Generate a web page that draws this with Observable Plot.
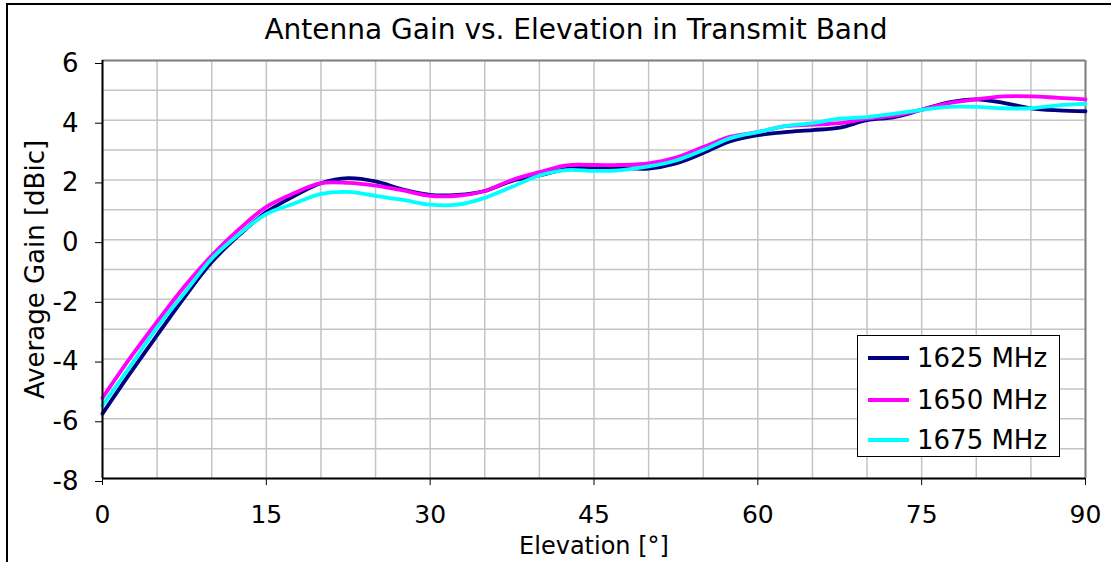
<!DOCTYPE html>
<html>
<head>
<meta charset="utf-8">
<script src="https://cdn.jsdelivr.net/npm/d3@7"></script>
<script src="https://cdn.jsdelivr.net/npm/@observablehq/plot@0.6"></script>
<style>
  html, body { margin: 0; padding: 0; background: #fff; }
  #wrap { position: relative; width: 1111px; height: 562px; overflow: hidden; font-family: "DejaVu Sans", Verdana, sans-serif; }
  #outer { position: absolute; left: 6px; top: 3px; width: 1200px; height: 700px; border: 2px solid #000; pointer-events: none; }
  #legend { position: absolute; left: 857px; top: 335px; width: 203px; height: 122px; border: 1.5px solid #000; background: #fff; box-sizing: border-box; }
  .row { position: absolute; left: 0; height: 40px; display: flex; align-items: center; }
  .row span { font-size: 26px; color: #000; margin-left: 8px; white-space: nowrap; }
</style>
</head>
<body>
<div id="wrap">
  <div id="chart"></div>
  <div id="legend"></div>
  <div id="outer"></div>
</div>
<script>
const elevation = [0, 2.5, 5, 7.5, 10, 12.5, 15, 17.5, 20, 22.5, 25, 27.5, 30, 32.5, 35, 37.5, 40, 42.5, 45, 47.5, 50, 52.5, 55, 57.5, 60, 62.5, 65, 67.5, 70, 72.5, 75, 77.5, 80, 82.5, 85, 87.5, 90];
const gain1625 = [-5.83, -4.49, -3.2, -1.93, -0.75, 0.15, 0.92, 1.45, 1.89, 2.06, 1.95, 1.68, 1.5, 1.5, 1.63, 1.97, 2.15, 2.37, 2.43, 2.4, 2.38, 2.55, 2.9, 3.3, 3.5, 3.6, 3.67, 3.75, 4.0, 4.1, 4.35, 4.6, 4.7, 4.58, 4.4, 4.33, 4.3];
const gain1650 = [-5.3, -3.98, -2.75, -1.57, -0.53, 0.35, 1.1, 1.55, 1.89, 1.9, 1.81, 1.65, 1.47, 1.47, 1.63, 2.0, 2.26, 2.49, 2.5, 2.5, 2.55, 2.75, 3.1, 3.45, 3.6, 3.8, 3.85, 3.9, 4.05, 4.15, 4.35, 4.57, 4.7, 4.8, 4.8, 4.75, 4.7];
const gain1675 = [-5.55, -4.26, -2.94, -1.79, -0.64, 0.18, 0.86, 1.2, 1.53, 1.6, 1.47, 1.33, 1.17, 1.17, 1.4, 1.77, 2.15, 2.33, 2.3, 2.33, 2.45, 2.65, 3.0, 3.4, 3.6, 3.8, 3.9, 4.05, 4.1, 4.22, 4.35, 4.45, 4.45, 4.4, 4.4, 4.5, 4.55];
const seriesNames = ["1625 MHz", "1650 MHz", "1675 MHz"];
const seriesColors = ["#000080", "#ff00ff", "#00ffff"];
const xTicks = [0, 15, 30, 45, 60, 75, 90];
const xGrid = [0, 5, 10, 15, 20, 25, 30, 35, 40, 45, 50, 55, 60, 65, 70, 75, 80, 85, 90];
const yTicks = [-8, -6, -4, -2, 0, 2, 4, 6];
const yGrid = [-8, -7, -6, -5, -4, -3, -2, -1, 0, 1, 2, 3, 4, 5, 6];
const titleText = "Antenna Gain vs. Elevation in Transmit Band";
const xLabel = "Elevation [°]";
const yLabel = "Average Gain [dBic]";

const allSeries = [gain1625, gain1650, gain1675];
const rows = [];
allSeries.forEach((vals, i) => {
  vals.forEach((v, j) => rows.push({elevation: elevation[j], gain: v, series: seriesNames[i]}));
});

const chart = Plot.plot({
  width: 1111,
  height: 562,
  marginTop: 60,
  marginLeft: 102,
  marginRight: 26,
  marginBottom: 84,
  style: {fontFamily: "'DejaVu Sans', Verdana, sans-serif", fontSize: "26px", background: "transparent", color: "#000"},
  x: {domain: [0, 90]},
  y: {domain: [-8, 6]},
  color: {domain: seriesNames, range: seriesColors},
  marks: [
    Plot.ruleX(xGrid, {stroke: "#c4c4c4", strokeWidth: 1.5}),
    Plot.ruleY(yGrid, {stroke: "#c4c4c4", strokeWidth: 1.5}),
    Plot.ruleX([90], {stroke: "#808080", strokeWidth: 2}),
    Plot.ruleY([6], {stroke: "#808080", strokeWidth: 2}),
    Plot.line(rows, {x: "elevation", y: "gain", stroke: "series", z: "series", strokeWidth: 3.8, curve: "catmull-rom"}),
    Plot.axisX({ticks: xTicks, tickSize: 7, tickPadding: 20, label: null, stroke: "#000", fontSize: 25, tickFormat: d => String(d)}),
    Plot.axisY({ticks: yTicks, tickSize: 7, tickPadding: 17, label: null, stroke: "#000", fontSize: 26, dy: 3, tickFormat: d => (d < 0 ? "-" + Math.abs(d) : String(d))}),
    Plot.ruleX([0], {stroke: "#000", strokeWidth: 2}),
    Plot.ruleY([-8], {stroke: "#000", strokeWidth: 2}),
    Plot.text([titleText], {frameAnchor: "top", lineAnchor: "middle", textAnchor: "middle", dy: -30, dx: -18, fontSize: 28, fill: "#000"}),
    Plot.text([xLabel], {frameAnchor: "bottom", lineAnchor: "middle", textAnchor: "middle", dy: 68, fontSize: 24, fill: "#000"}),
    Plot.text([yLabel], {frameAnchor: "left", lineAnchor: "middle", textAnchor: "middle", dx: -67, rotate: -90, fontSize: 26, fill: "#000"})
  ]
});
document.getElementById("chart").appendChild(chart);

const legend = document.getElementById("legend");
seriesNames.forEach((name, i) => {
  const row = document.createElement("div");
  row.className = "row";
  row.style.top = [2, 44, 84][i] + "px";
  row.style.left = "10px";
  row.innerHTML = `<svg width="41" height="6"><line x1="0" y1="3" x2="41" y2="3" stroke="${seriesColors[i]}" stroke-width="4"/></svg><span>${name}</span>`;
  legend.appendChild(row);
});
</script>
</body>
</html>
